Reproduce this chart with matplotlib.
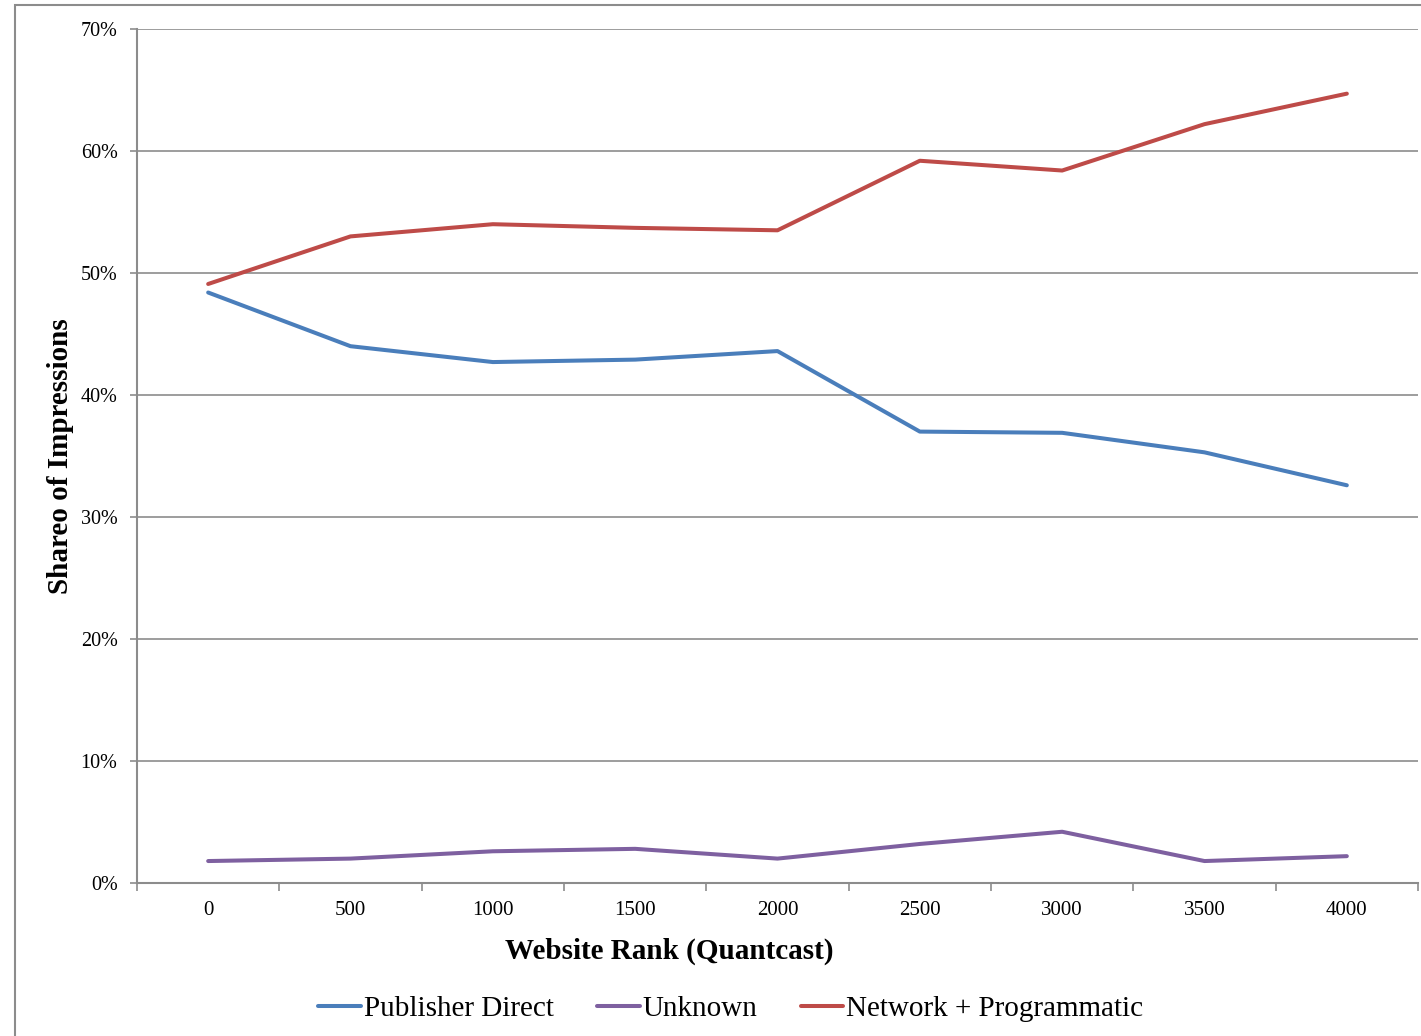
import matplotlib.pyplot as plt
from matplotlib.patches import Rectangle

# website rank buckets (Quantcast) and share of impressions, in percent
ranks = [0, 500, 1000, 1500, 2000, 2500, 3000, 3500, 4000]
publisher_direct = [48.4, 44.0, 42.7, 42.9, 43.6, 37.0, 36.9, 35.3, 32.6]
unknown = [1.8, 2.0, 2.6, 2.8, 2.0, 3.2, 4.2, 1.8, 2.2]
network_programmatic = [49.1, 53.0, 54.0, 53.7, 53.5, 59.2, 58.4, 62.2, 64.7]
y_ticks = [0, 10, 20, 30, 40, 50, 60, 70]

plt.rcParams["font.family"] = ["Liberation Serif", "DejaVu Serif"]

W, H = 1421, 1036
fig = plt.figure(figsize=(W / 100, H / 100), dpi=100)

# outer chart frame (runs past the right and bottom edges)
fig.patches.append(Rectangle((15 / W, -0.1), 1.2, 1 - 5.5 / H + 0.1,
                             transform=fig.transFigure, fill=False,
                             edgecolor="#8c8c8c", linewidth=1.5))

ax = fig.add_axes([137 / W, 1 - 883 / H, (1418 - 137) / W, (883 - 29) / H])

ax.plot(ranks, publisher_direct, color="#4A7EBB", lw=2.9, label="Publisher Direct",
        solid_capstyle="round")
ax.plot(ranks, unknown, color="#7E60A0", lw=2.9, label="Unknown",
        solid_capstyle="round")
ax.plot(ranks, network_programmatic, color="#BE4B48", lw=2.9,
        label="Network + Programmatic", solid_capstyle="round")

step = ranks[1] - ranks[0]
ax.set_xlim(ranks[0] - step / 2, ranks[-1] + step / 2)
ax.set_ylim(0, 70)

ax.set_yticks(y_ticks)
ax.set_yticklabels([f"{v}%" for v in y_ticks])
ax.set_xticks(ranks)
ax.set_xticklabels([str(r) for r in ranks])
ax.set_xticks([r + step / 2 for r in [ranks[0] - step] + ranks], minor=True)

ax.tick_params(axis="y", length=5, width=1.2, color="#8c8c8c", pad=9,
               labelsize=14.5)
ax.tick_params(axis="x", which="major", length=0, pad=13, labelsize=15)
ax.tick_params(axis="x", which="minor", length=6, width=1.2, color="#8c8c8c")

ax.grid(axis="y", color="#8c8c8c", linewidth=1.2)
ax.set_axisbelow(True)
for side in ["top", "right"]:
    ax.spines[side].set_visible(False)
for side in ["left", "bottom"]:
    ax.spines[side].set_color("#8c8c8c")
    ax.spines[side].set_linewidth(1.5)

fig.text(669 / W, 1 - 951 / H, "Website Rank (Quantcast)", ha="center",
         va="center", fontsize=21, fontweight="bold")
fig.text(61 / W, 1 - 456 / H, "Shareo of Impressions", ha="center",
         va="center", rotation=90, fontsize=21, fontweight="bold")

fig.legend(loc="center", bbox_to_anchor=(731 / W, 1 - 1009 / H), ncol=3,
           frameon=False, fontsize=21, handlelength=1.45, handletextpad=0.1,
           columnspacing=1.5)

fig.savefig("out.png", dpi=100)
